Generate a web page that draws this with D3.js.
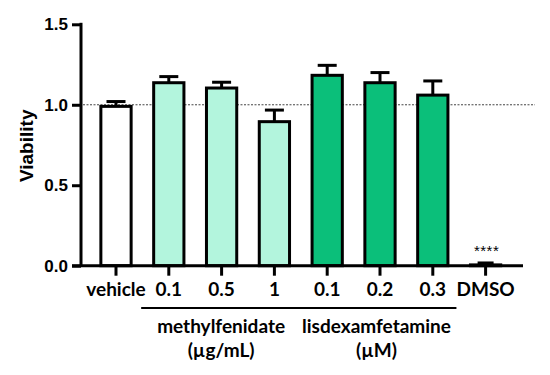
<!DOCTYPE html>
<html>
<head>
<meta charset="utf-8">
<script src="https://cdn.jsdelivr.net/npm/d3@7"></script>
<style>
  html, body { margin: 0; padding: 0; background: #fff; }
  svg { display: block; }
  .ytick { font-family: "Liberation Sans", Arial, sans-serif; font-weight: bold; font-size: 17px; }
  .xtick, .group { font-family: Lato, "Open Sans", sans-serif; font-weight: bold; font-size: 19px; }
</style>
</head>
<body>
<svg id="chart" width="550" height="375"></svg>
<script>
(function () {
  "use strict";

  const categories = ["vehicle", "m0.1", "m0.5", "m1", "l0.1", "l0.2", "l0.3", "DMSO"];
  const tickLabels = ["vehicle", "0.1", "0.5", "1", "0.1", "0.2", "0.3", "DMSO"];
  const means = [0.99, 1.137, 1.104, 0.895, 1.183, 1.137, 1.06, 0.005];
  const errors = [0.03, 0.038, 0.036, 0.072, 0.062, 0.063, 0.088, 0.012];
  const fills = ["#ffffff", "#b3f5dd", "#b3f5dd", "#b3f5dd", "#0bbf7a", "#0bbf7a", "#0bbf7a", "#0bbf7a"];
  const yTicks = [0, 0.5, 1.0, 1.5];
  const groups = [
    { name: "methylfenidate", unit: "(µg/mL)", from: "m0.1", to: "m1" },
    { name: "lisdexamfetamine", unit: "(µM)", from: "l0.1", to: "l0.3" },
  ];

  const svg = d3.select("#chart");

  const x = d3.scaleBand()
    .domain(categories)
    .range([89.6, 512])
    .paddingInner(0.37)
    .paddingOuter(0.185);

  const y = d3.scaleLinear().domain([0, 1.5]).range([265.7, 24.3]);

  const axisX = 81;
  const axisY = y(0);

  // reference line at 1.0
  svg.append("line")
    .attr("x1", axisX + 2).attr("x2", 535)
    .attr("y1", y(1)).attr("y2", y(1))
    .attr("stroke", "#444")
    .attr("stroke-width", 1)
    .attr("stroke-dasharray", "2,1.5");

  const bw = x.bandwidth();

  // error bars (upper only)
  const eb = svg.append("g").attr("class", "errors");
  categories.forEach((c, i) => {
    const cx = x(c) + bw / 2;
    const top = y(means[i] + errors[i]);
    eb.append("line")
      .attr("x1", cx).attr("x2", cx)
      .attr("y1", y(means[i])).attr("y2", top)
      .attr("stroke", "#000").attr("stroke-width", 3);
    const capW = c === "DMSO" ? 16 : 19;
    eb.append("line")
      .attr("x1", cx - capW / 2).attr("x2", cx + capW / 2)
      .attr("y1", top).attr("y2", top)
      .attr("stroke", "#000").attr("stroke-width", 3);
  });

  // bars
  svg.append("g").selectAll("rect")
    .data(categories)
    .join("rect")
    .attr("x", (c) => x(c) + 1.5)
    .attr("width", bw - 3)
    .attr("y", (c, i) => y(means[i]))
    .attr("height", (c, i) => axisY - y(means[i]))
    .attr("fill", (c, i) => fills[i])
    .attr("stroke", "#000")
    .attr("stroke-width", 3);

  // y axis
  const yAxis = svg.append("g")
    .attr("transform", `translate(${axisX},0)`)
    .call(d3.axisLeft(y).tickValues(yTicks).tickFormat(d3.format(".1f")).tickSize(9).tickPadding(4));
  yAxis.select(".domain").attr("stroke-width", 3).attr("d", `M0,${y(1.5) - 1.5}V${axisY}`);
  yAxis.selectAll(".tick line").attr("stroke-width", 3);
  yAxis.selectAll(".tick text").attr("class", "ytick").attr("fill", "#000");

  // x axis
  const xAxis = svg.append("g")
    .attr("transform", `translate(0,${axisY})`)
    .call(d3.axisBottom(x).tickFormat((c, i) => tickLabels[i]).tickSize(10));
  xAxis.select(".domain").attr("stroke-width", 3).attr("d", "M72,0H523");
  xAxis.selectAll(".tick line").attr("stroke-width", 3);
  xAxis.selectAll(".tick text").attr("class", "xtick").attr("fill", "#000")
    .attr("y", 30).attr("dy", 0);

  // group brackets and labels
  groups.forEach((g) => {
    const gx1 = g.from === "m0.1" ? x(g.from) - 11 : x(g.from) - 14;
    const gx2 = g.to === "m1" ? x(g.to) + bw + 10 : x(g.to) + bw + 7;
    svg.append("line")
      .attr("x1", gx1).attr("x2", gx2)
      .attr("y1", 308).attr("y2", 308)
      .attr("stroke", "#000").attr("stroke-width", 2);
    const mid = (gx1 + gx2) / 2;
    svg.append("text").attr("class", "group")
      .attr("x", mid).attr("y", 333).attr("text-anchor", "middle").text(g.name);
    svg.append("text").attr("class", "group")
      .attr("x", mid).attr("y", 357).attr("text-anchor", "middle").text(g.unit);
  });

  // axis title
  svg.append("text")
    .attr("transform", `translate(33,${y(0.745)}) rotate(-90)`)
    .attr("text-anchor", "middle")
    .style("font-family", "'Liberation Sans', Arial, sans-serif")
    .style("font-weight", "bold")
    .style("font-size", "19px")
    .text("Viability");

  // significance marker
  const dm = x("DMSO") + bw / 2;
  svg.append("text")
    .attr("x", dm + 1).attr("y", 256)
    .attr("text-anchor", "middle")
    .style("font-family", "'Liberation Sans', Arial, sans-serif")
    .style("font-size", "15px")
    .style("letter-spacing", "0.5px")
    .text("****");
})();
</script>
</body>
</html>
